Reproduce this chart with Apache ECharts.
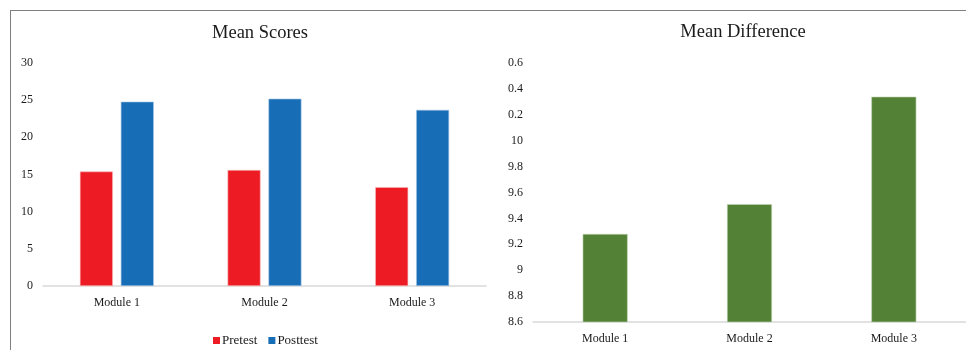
<!DOCTYPE html>
<html>
<head>
<meta charset="utf-8">
<script src="https://cdn.jsdelivr.net/npm/echarts@6/dist/echarts.min.js"></script>
<style>
  html, body { margin: 0; padding: 0; background: #fff; }
  #frame { position: absolute; left: 10px; top: 10px; width: 956px; height: 340px;
           border-top: 1.5px solid #7f7f7f; border-left: 1.5px solid #7f7f7f; box-sizing: border-box; }
  #chart { position: absolute; left: 0; top: 0; width: 966px; height: 350px; }
</style>
</head>
<body>
<div id="frame"></div>
<div id="chart"></div>
<script>
// Module labels shared by both panels
const modules = ['Module 1', 'Module 2', 'Module 3'];

// Mean scores per module
const pretest = [15.4, 15.6, 13.3];
const posttest = [24.8, 25.2, 23.7];

// Mean difference (posttest - pretest) per module
const meanDifference = [9.28, 9.51, 10.34];

// Tick labels of the difference axis, as printed
const diffTicks = ['8.6', '8.8', '9', '9.2', '9.4', '9.6', '9.8', '10', '0.2', '0.4', '0.6'];
const diffMin = 8.6, diffMax = 10.6, diffStep = 0.2;

const serif = "'Liberation Serif', 'Times New Roman', serif";
const textColor = '#1a1a1a';
const axisLineColor = '#d9d9d9';

const chart = echarts.init(document.getElementById('chart'));
chart.setOption({
  animation: false,
  textStyle: { fontFamily: serif, color: textColor },
  title: [
    { text: 'Mean Scores', left: 255, top: 19, textAlign: 'center',
      textStyle: { fontFamily: serif, fontSize: 18.5, fontWeight: 'normal', color: textColor } },
    { text: 'Mean Difference', left: 738, top: 18, textAlign: 'center',
      textStyle: { fontFamily: serif, fontSize: 18.5, fontWeight: 'normal', color: textColor } }
  ],
  legend: {
    data: ['Pretest', 'Posttest'],
    left: 208, top: 329,
    icon: 'rect', itemWidth: 7, itemHeight: 7, itemGap: 11,
    itemStyle: { borderWidth: 0 },
    textStyle: { fontFamily: serif, fontSize: 13, color: textColor, padding: [0, 0, 0, -3] }
  },
  grid: [
    { left: 43, right: 480, top: 63, bottom: 64 },
    { left: 533, right: 0, top: 63, bottom: 28 }
  ],
  xAxis: [
    { type: 'category', gridIndex: 0, data: modules,
      axisLine: { lineStyle: { color: axisLineColor, width: 1.5 } },
      axisTick: { show: false },
      axisLabel: { fontFamily: serif, fontSize: 12, color: textColor, margin: 11 } },
    { type: 'category', gridIndex: 1, data: modules,
      axisLine: { lineStyle: { color: axisLineColor, width: 1.5 } },
      axisTick: { show: false },
      axisLabel: { fontFamily: serif, fontSize: 12, color: textColor, margin: 11 } }
  ],
  yAxis: [
    { type: 'value', gridIndex: 0, min: 0, max: 30, interval: 5,
      splitLine: { show: false }, axisLine: { show: false }, axisTick: { show: false },
      axisLabel: { fontFamily: serif, fontSize: 12, color: textColor, margin: 10 } },
    { type: 'value', gridIndex: 1, min: diffMin, max: diffMax, interval: diffStep,
      splitLine: { show: false }, axisLine: { show: false }, axisTick: { show: false },
      axisLabel: { fontFamily: serif, fontSize: 12, color: textColor, margin: 10,
        formatter: v => diffTicks[Math.round((v - diffMin) / diffStep)] ?? '' } }
  ],
  series: [
    { name: 'Pretest', type: 'bar', xAxisIndex: 0, yAxisIndex: 0, data: pretest,
      barWidth: 33, barGap: '24%',
      itemStyle: { color: '#ED1C24', borderColor: '#f6b7b9', borderWidth: 0.6 } },
    { name: 'Posttest', type: 'bar', xAxisIndex: 0, yAxisIndex: 0, data: posttest,
      barWidth: 33, barGap: '24%',
      itemStyle: { color: '#176DB6', borderColor: '#a9c8e6', borderWidth: 0.6 } },
    { name: 'Mean Difference', type: 'bar', xAxisIndex: 1, yAxisIndex: 1, data: meanDifference,
      barWidth: 45,
      itemStyle: { color: '#538135', borderColor: '#c5d6b9', borderWidth: 0.6 } }
  ]
});
</script>
</body>
</html>
